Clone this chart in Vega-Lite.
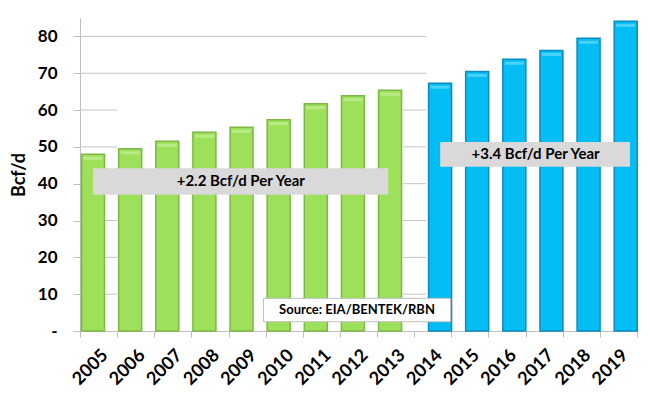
{
  "$schema": "https://vega.github.io/schema/vega-lite/v6.json",
  "width": 557,
  "height": 313,
  "autosize": {"type": "none"},
  "padding": {"left": 80, "top": 18, "right": 13, "bottom": 72},
  "background": "white",
  "config": {
    "view": {"stroke": null},
    "font": "Lato"
  },
  "datasets": {
    "production": [
      {"year": "2005", "value": 48.0, "series": "Historical"},
      {"year": "2006", "value": 49.5, "series": "Historical"},
      {"year": "2007", "value": 51.5, "series": "Historical"},
      {"year": "2008", "value": 54.0, "series": "Historical"},
      {"year": "2009", "value": 55.3, "series": "Historical"},
      {"year": "2010", "value": 57.4, "series": "Historical"},
      {"year": "2011", "value": 61.7, "series": "Historical"},
      {"year": "2012", "value": 63.9, "series": "Historical"},
      {"year": "2013", "value": 65.4, "series": "Historical"},
      {"year": "2014", "value": 67.3, "series": "Forecast"},
      {"year": "2015", "value": 70.5, "series": "Forecast"},
      {"year": "2016", "value": 73.8, "series": "Forecast"},
      {"year": "2017", "value": 76.2, "series": "Forecast"},
      {"year": "2018", "value": 79.5, "series": "Forecast"},
      {"year": "2019", "value": 84.1, "series": "Forecast"}
    ],
    "gridlines": [
      {"level": 80, "start": 2004.5, "end": 2013.82},
      {"level": 70, "start": 2004.5, "end": 2013.82},
      {"level": 60, "start": 2004.5, "end": 2005.5},
      {"level": 60, "start": 2013.2, "end": 2013.82},
      {"level": 50, "start": 2004.5, "end": 2005.5},
      {"level": 50, "start": 2013.2, "end": 2013.82},
      {"level": 40, "start": 2004.5, "end": 2005.5},
      {"level": 40, "start": 2013.2, "end": 2013.82},
      {"level": 30, "start": 2004.5, "end": 2005.5},
      {"level": 30, "start": 2013.2, "end": 2013.82},
      {"level": 20, "start": 2004.5, "end": 2005.5},
      {"level": 20, "start": 2013.2, "end": 2013.82},
      {"level": 10, "start": 2004.5, "end": 2005.5},
      {"level": 10, "start": 2013.2, "end": 2013.82}
    ]
  },
  "resolve": {
    "scale": {"x": "independent", "color": "independent"},
    "axis": {"y": "independent"}
  },
  "layer": [
    {
      "data": {"name": "gridlines"},
      "mark": {"type": "rule", "color": "#C4C4C4", "strokeWidth": 1},
      "encoding": {
        "x": {"field": "start", "type": "quantitative", "scale": {"domain": [2004.5, 2019.5], "nice": false, "zero": false}, "axis": null},
        "x2": {"field": "end"},
        "y": {"field": "level", "type": "quantitative", "axis": null}
      }
    },
    {
      "data": {"name": "production"},
      "mark": {"type": "bar", "width": 23, "strokeWidth": 1.5},
      "encoding": {
        "x": {
          "field": "year", "type": "ordinal",
          "scale": {"paddingInner": 0, "paddingOuter": 0},
          "axis": {
            "title": null, "tickBand": "extent", "tickSize": 6, "tickColor": "#BFBFBF",
            "domainColor": "#BFBFBF", "labelAngle": -45, "labelFont": "Lato",
            "labelFontWeight": "bold", "labelFontSize": 18, "labelColor": "#000000",
            "labelPadding": 9
          }
        },
        "xOffset": {"field": "series", "type": "nominal", "scale": {"domain": ["Historical", "Forecast"], "range": [6.57, 32.27]}},
        "y": {
          "field": "value", "type": "quantitative",
          "scale": {"domain": [0, 85], "nice": false},
          "axis": {
            "title": "Bcf/d", "titleFont": "Lato", "titleFontWeight": "bold", "titleFontSize": 18,
            "titleColor": "#000000", "titlePadding": 9,
            "values": [0, 10, 20, 30, 40, 50, 60, 70, 80],
            "labelExpr": "datum.value === 0 ? '-' : datum.label",
            "labelFont": "Lato", "labelFontWeight": "bold", "labelFontSize": 17, "labelColor": "#000000",
            "labelPadding": 16, "tickSize": 7, "tickColor": "#BFBFBF", "domainColor": "#BFBFBF", "grid": false
          }
        },
        "color": {"field": "series", "type": "nominal", "scale": {"domain": ["Historical", "Forecast"], "range": ["#9DE05A", "#05BDF5"]}, "legend": null},
        "stroke": {"field": "series", "type": "nominal", "scale": {"domain": ["Historical", "Forecast"], "range": ["#7DB845", "#0A8CC0"]}, "legend": null}
      }
    },
    {
      "data": {"name": "production"},
      "mark": {"type": "tick", "thickness": 3, "size": 19, "yOffset": 4},
      "encoding": {
        "x": {"field": "year", "type": "ordinal", "scale": {"paddingInner": 0, "paddingOuter": 0}, "axis": null},
        "xOffset": {"field": "series", "type": "nominal", "scale": {"domain": ["Historical", "Forecast"], "range": [6.57, 32.27]}},
        "y": {"field": "value", "type": "quantitative", "axis": null},
        "color": {"field": "series", "type": "nominal", "scale": {"domain": ["Historical", "Forecast"], "range": ["#C8F098", "#6ADCFF"]}, "legend": null}
      }
    },
    {
      "data": {"values": [{"label": "+2.2 Bcf/d Per Year"}]},
      "layer": [
        {
          "mark": {"type": "rect", "color": "#D9D9D9"},
          "encoding": {
            "x": {"datum": 2004.85, "type": "quantitative", "scale": {"domain": [2004.5, 2019.5], "nice": false, "zero": false}, "axis": null},
            "x2": {"datum": 2012.8},
            "y": {"datum": 44.2, "type": "quantitative", "axis": null},
            "y2": {"datum": 37.0}
          }
        },
        {
          "mark": {"type": "text", "font": "Lato", "fontWeight": "bold", "fontSize": 15, "color": "#000000"},
          "encoding": {
            "x": {"datum": 2008.83, "type": "quantitative", "scale": {"domain": [2004.5, 2019.5], "nice": false, "zero": false}, "axis": null},
            "y": {"datum": 40.6, "type": "quantitative", "axis": null},
            "text": {"field": "label"}
          }
        }
      ]
    },
    {
      "data": {"values": [{"label": "+3.4 Bcf/d Per Year"}]},
      "layer": [
        {
          "mark": {"type": "rect", "color": "#D9D9D9"},
          "encoding": {
            "x": {"datum": 2014.2, "type": "quantitative", "scale": {"domain": [2004.5, 2019.5], "nice": false, "zero": false}, "axis": null},
            "x2": {"datum": 2019.31},
            "y": {"datum": 51.3, "type": "quantitative", "axis": null},
            "y2": {"datum": 44.6}
          }
        },
        {
          "mark": {"type": "text", "font": "Lato", "fontWeight": "bold", "fontSize": 15, "color": "#000000"},
          "encoding": {
            "x": {"datum": 2016.77, "type": "quantitative", "scale": {"domain": [2004.5, 2019.5], "nice": false, "zero": false}, "axis": null},
            "y": {"datum": 48.0, "type": "quantitative", "axis": null},
            "text": {"field": "label"}
          }
        }
      ]
    },
    {
      "data": {"values": [{"label": "Source: EIA/BENTEK/RBN"}]},
      "layer": [
        {
          "mark": {"type": "rect", "color": "#FFFFFF", "stroke": "#BFBFBF", "strokeWidth": 1},
          "encoding": {
            "x": {"datum": 2009.44, "type": "quantitative", "scale": {"domain": [2004.5, 2019.5], "nice": false, "zero": false}, "axis": null},
            "x2": {"datum": 2014.48},
            "y": {"datum": 8.87, "type": "quantitative", "axis": null},
            "y2": {"datum": 2.52}
          }
        },
        {
          "mark": {"type": "text", "font": "Lato", "fontWeight": "bold", "fontSize": 13, "color": "#000000"},
          "encoding": {
            "x": {"datum": 2011.96, "type": "quantitative", "scale": {"domain": [2004.5, 2019.5], "nice": false, "zero": false}, "axis": null},
            "y": {"datum": 5.7, "type": "quantitative", "axis": null},
            "text": {"field": "label"}
          }
        }
      ]
    }
  ]
}
